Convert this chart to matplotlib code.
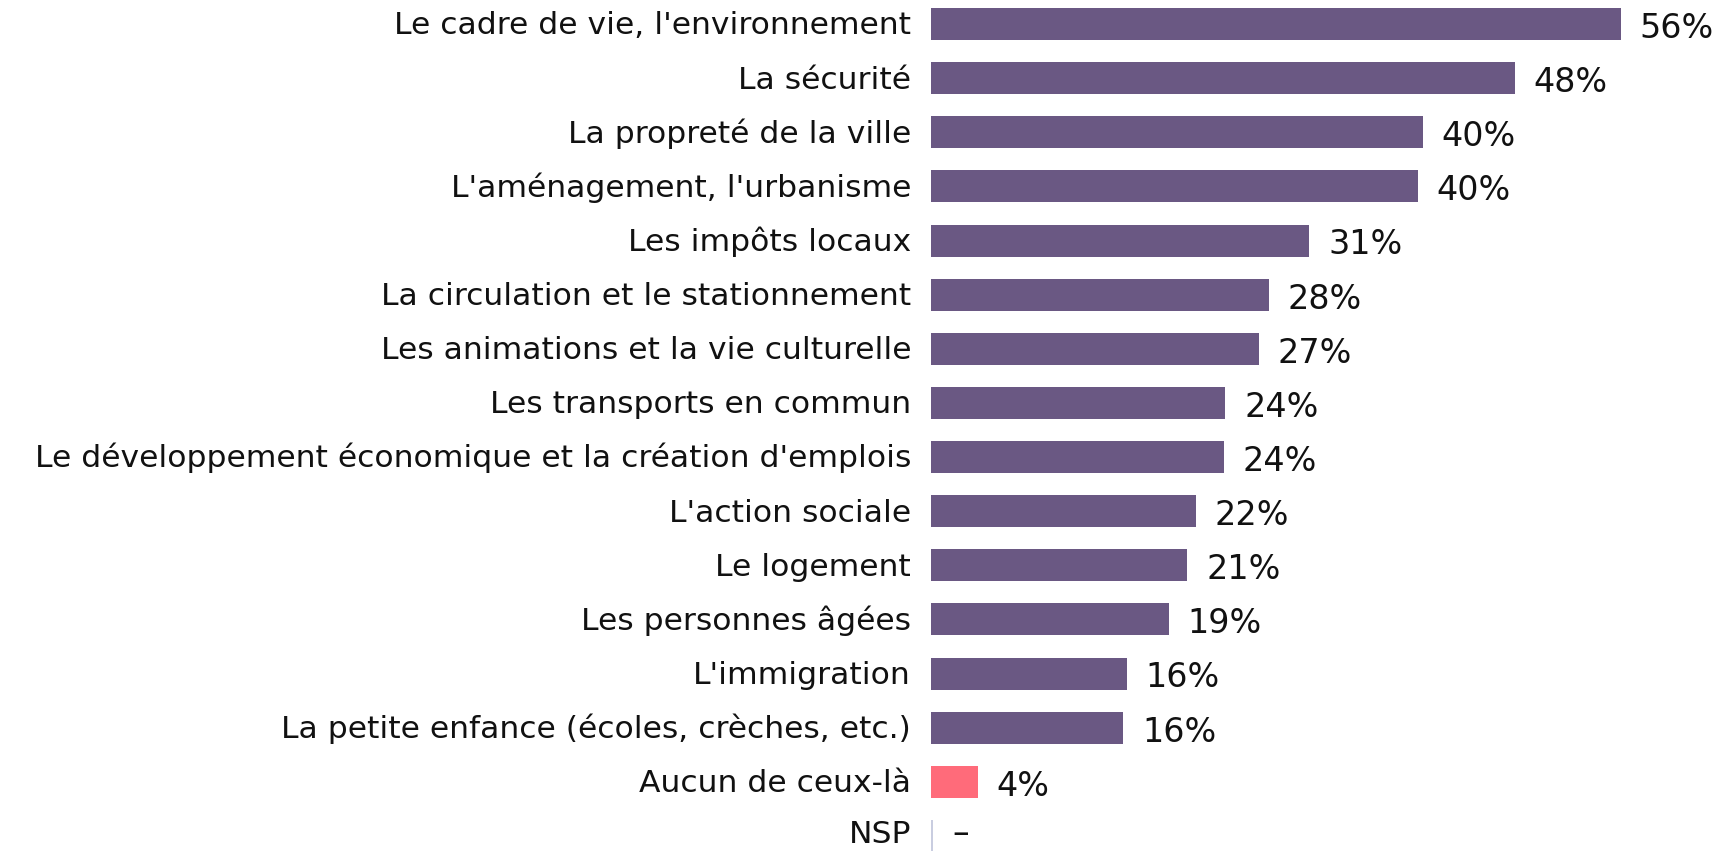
import matplotlib
matplotlib.use("Agg")
import matplotlib.pyplot as plt

categories = [
    "Le cadre de vie, l'environnement",
    "La sécurité",
    "La propreté de la ville",
    "L'aménagement, l'urbanisme",
    "Les impôts locaux",
    "La circulation et le stationnement",
    "Les animations et la vie culturelle",
    "Les transports en commun",
    "Le développement économique et la création d'emplois",
    "L'action sociale",
    "Le logement",
    "Les personnes âgées",
    "L'immigration",
    "La petite enfance (écoles, crèches, etc.)",
    "Aucun de ceux-là",
    "NSP",
]
values = [56.0, 47.4, 39.9, 39.5, 30.7, 27.4, 26.6, 23.9, 23.8, 21.5, 20.8, 19.3, 15.9, 15.6, 3.8, 0.0]
value_labels = ["56%", "48%", "40%", "40%", "31%", "28%", "27%", "24%", "24%", "22%",
                "21%", "19%", "16%", "16%", "4%", "–"]

PURPLE = "#6a5883"
PINK = "#ff6b7a"
NSP_COLOR = "#c9cde0"
colors = [PURPLE] * 14 + [PINK, NSP_COLOR]

plt.rcParams['font.family'] = ['DejaVu Sans']

W, H = 1721, 851
fig = plt.figure(figsize=(W / 100, H / 100), dpi=100)
left_px = 931
ax = fig.add_axes([left_px / W, 0, 1 - left_px / W, 1])

px_per_unit = 12.32
ax.set_xlim(0, (W - left_px) / px_per_unit)
row = 54.13
ax.set_ylim((H - 24) / row, -24 / row)

ys = list(range(len(categories)))
bar_h = 32 / row
last = len(categories) - 1
for y, v, c, cat in zip(ys, values, colors, categories):
    if cat == "NSP":
        ax.barh(y, 0.2, height=bar_h, color=c, left=0)
    else:
        ax.barh(y, v, height=bar_h, color=c)

for y, v, lab in zip(ys, values, value_labels):
    x = v if v > 0 else 0.2
    dy = -10 if y != last else -5
    ax.annotate(lab, (x, y), xytext=(13.5, dy), textcoords="offset points",
                ha="left", va="baseline", fontsize=24, color="#111111")

for y, cat in zip(ys, categories):
    dy = -7.5 if y != last else -5
    ax.annotate(cat, (0, y), xytext=(-14.4, dy), textcoords="offset points",
                ha="right", va="baseline", fontsize=22.6, color="#111111",
                annotation_clip=False)

ax.axis("off")
fig.savefig("out.png", dpi=100)
